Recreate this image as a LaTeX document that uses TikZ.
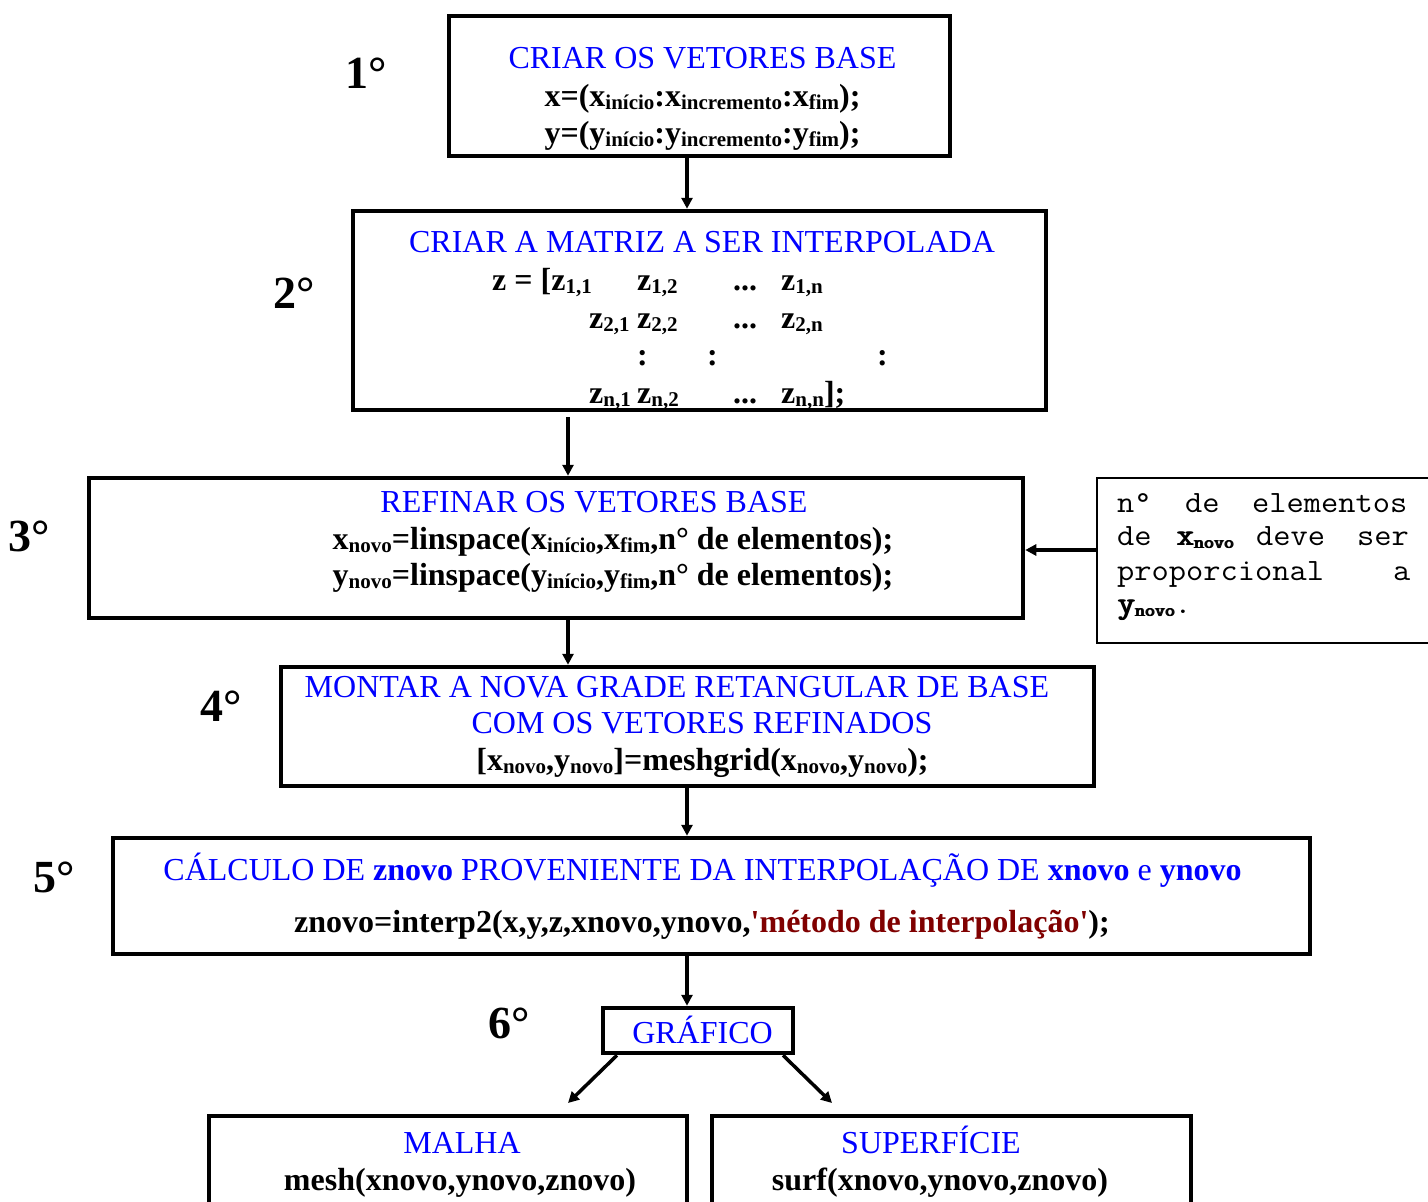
\documentclass[tikz,border=0pt]{standalone}
\usepackage{fontspec}
\usepackage{graphicx}
\setmainfont{Liberation Serif}
\newfontfamily\rawserif{Liberation Serif}
\usetikzlibrary{arrows.meta,calc}
\definecolor{ttlblue}{RGB}{0,0,255}
\definecolor{dred}{RGB}{128,0,0}
\newcommand{\sbx}[1]{\raisebox{-3pt}{\fontsize{21}{21}\selectfont\bfseries #1}}
\newcommand{\fkb}[1]{\rlap{\hspace{0.6pt}#1}\rlap{\hspace{1.2pt}#1}#1}
\newcommand{\sbm}[1]{\raisebox{-3pt}{\fontsize{18}{18}\selectfont\ttfamily\fkb{#1}}}
\newcommand{\mw}[1]{\scalebox{1.08}[1]{#1}}
\newcommand{\sq}{{\rawserif\bfseries\char"0027}}
\begin{document}
\begin{tikzpicture}[x=1pt,y=-1pt,
  box/.style={draw, line width=4.5pt, inner sep=0pt},
  thinbox/.style={draw, line width=2pt, inner sep=0pt},
  ttl/.style={anchor=base, text=ttlblue, font=\fontsize{32}{38}\selectfont, inner sep=0pt},
  code/.style={anchor=base, font=\fontsize{32}{38}\selectfont\bfseries, inner sep=0pt},
  codew/.style={code, anchor=base west},
  stepno/.style={anchor=base west, font=\fontsize{46}{50}\selectfont\bfseries, inner sep=0pt},
  mono/.style={anchor=base west, font=\fontsize{31}{34}\selectfont\ttfamily, inner sep=0pt},
  arr/.style={line width=3.5pt, -{Triangle[length=11pt,width=11pt]}},
]
\useasboundingbox (0,0) rectangle (1428,1202);
\fill[white] (0,0) rectangle (1428,1202);

% boxes
\node[box, minimum width=501pt, minimum height=140pt] (b1) at (699.5,86) {};
\node[box, minimum width=693pt, minimum height=199pt] (b2) at (699.5,310.5) {};
\node[box, minimum width=934pt, minimum height=140pt] (b3) at (556,548) {};
\node[thinbox, minimum width=343pt, minimum height=165pt] (sb) at (1268.5,560.5) {};
\node[box, minimum width=813pt, minimum height=119pt] (b4) at (687.5,726.5) {};
\node[box, minimum width=1197pt, minimum height=116pt] (b5) at (711.5,896) {};
\node[box, minimum width=190pt, minimum height=45pt] (b6) at (698,1030.5) {};
\node[box, minimum width=478pt, minimum height=120pt] (b7) at (448,1176) {};
\node[box, minimum width=479pt, minimum height=120pt] (b8) at (951.5,1176) {};

% step numbers
\node[stepno] (n1) at (345,88) {1°};
\node[stepno] (n2) at (273,308) {2°};
\node[stepno] (n3) at (8,551) {3°};
\node[stepno] (n4) at (200,721) {4°};
\node[stepno] (n5) at (33,892) {5°};
\node[stepno] (n6) at (488,1038) {6°};

% box 1
\node[ttl] (t1a) at (702.5,68) {CRIAR OS VETORES BASE};
\node[code] (t1b) at (702.5,106) {x=(x\sbx{início}:x\sbx{incremento}:x\sbx{fim});};
\node[code] (t1c) at (702.5,143) {y=(y\sbx{início}:y\sbx{incremento}:y\sbx{fim});};

% box 2
\node[ttl] (t2a) at (702,252) {CRIAR A MATRIZ A SER INTERPOLADA};
\node[codew] (m11) at (492,290) {z = [z\sbx{1,1}};
\node[codew] (m12) at (637,290) {z\sbx{1,2}};
\node[codew] (m13) at (733,290) {...};
\node[codew] (m14) at (781,290) {z\sbx{1,n}};
\node[codew] (m21) at (589,328) {z\sbx{2,1}};
\node[codew] (m22) at (637,328) {z\sbx{2,2}};
\node[codew] (m23) at (733,328) {...};
\node[codew] (m24) at (781,328) {z\sbx{2,n}};
\node[codew] (m31) at (637,365) {:};
\node[codew] (m32) at (707,365) {:};
\node[codew] (m33) at (877,365) {:};
\node[codew] (m41) at (589,403) {z\sbx{n,1}};
\node[codew] (m42) at (637,403) {z\sbx{n,2}};
\node[codew] (m43) at (733,403) {...};
\node[codew] (m44) at (781,403) {z\sbx{n,n}];};

% box 3
\node[ttl] (t3a) at (594,512) {REFINAR OS VETORES BASE};
\node[code] (t3b) at (613,549) {x\sbx{novo}=linspace(x\sbx{início},x\sbx{fim},n° de elementos);};
\node[code] (t3c) at (613,585) {y\sbx{novo}=linspace(y\sbx{início},y\sbx{fim},n° de elementos);};

% side box
\node[mono] (s1a) at (1117,512) {\mw{n°}};
\node[mono] (s1b) at (1185,512) {\mw{de}};
\node[mono] (s1c) at (1252,512) {\mw{elementos}};
\node[mono] (s2a) at (1117,545) {\mw{de}};
\node[mono] (s2b) at (1176,545) {\mw{\fkb{x}\sbm{novo}}};
\node[mono] (s2c) at (1256,545) {\mw{deve}};
\node[mono] (s2d) at (1357,545) {\mw{ser}};
\node[mono] (s3a) at (1117,580) {\mw{proporcional}};
\node[mono] (s3b) at (1393,580) {\mw{a}};
\node[mono] (s4a) at (1117,613) {\mw{\fkb{y}\sbm{novo}.}};

% box 4
\node[ttl] (t4a) at (677,697) {MONTAR A NOVA GRADE RETANGULAR DE BASE};
\node[ttl] (t4b) at (702,733) {COM OS VETORES REFINADOS};
\node[code] (t4c) at (702.5,770) {[x\sbx{novo},y\sbx{novo}]=meshgrid(x\sbx{novo},y\sbx{novo});};

% box 5
\node[ttl] (t5a) at (702.5,880) {CÁLCULO DE \textbf{znovo} PROVENIENTE DA INTERPOLAÇÃO DE \textbf{xnovo} e \textbf{ynovo}};
\node[code] (t5b) at (702,932) {znovo=interp2(x,y,z,xnovo,ynovo,{\color{dred}\sq método de interpolação\sq});};

% box 6
\node[ttl] (t6a) at (702.5,1043) {GRÁFICO};
\node[ttl] (t7a) at (462,1153) {MALHA};
\node[code] (t7b) at (460,1190) {mesh(xnovo,ynovo,znovo)};
\node[ttl] (t8a) at (931,1153) {SUPERFÍCIE};
\node[code] (t8b) at (940,1190) {surf(xnovo,ynovo,znovo)};

% connectors
\coordinate (cA) at (687,0);
\coordinate (cB) at (568,0);
\coordinate (s2) at ([yshift=-5pt]b2.south);
\coordinate (yy) at (0,550);
\coordinate (tipL) at (568,1103);
\coordinate (tipR) at (832,1103);
\draw[arr] (b1.south -| cA) -- (b2.north -| cA);
\draw[arr] (s2 -| cB) -- (b3.north -| cB);
\draw[arr] (b3.south -| cB) -- (b4.north -| cB);
\draw[arr] (b4.south -| cA) -- (b5.north -| cA);
\draw[arr] (b5.south -| cA) -- (b6.north -| cA);
\draw[arr] (sb.west |- yy) -- (b3.east |- yy);
\draw[arr] ([xshift=-81pt]b6.south) -- (tipL);
\draw[arr] ([xshift=85pt]b6.south) -- (tipR);
\end{tikzpicture}
\end{document}
